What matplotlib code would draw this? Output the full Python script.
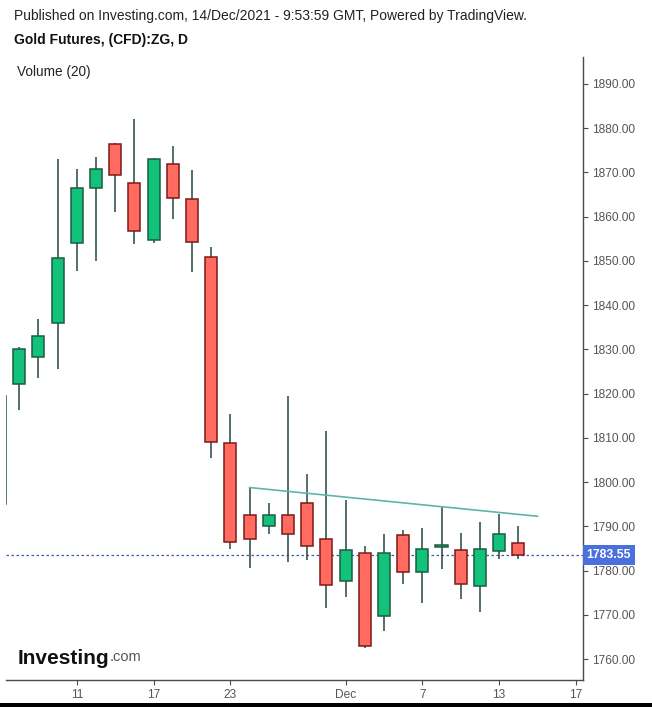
import datetime as dt
import matplotlib
matplotlib.use("Agg")
import matplotlib.pyplot as plt
import matplotlib.transforms as mtransforms
from matplotlib.patches import Rectangle

plt.rcParams['font.family'] = ['Liberation Sans', 'DejaVu Sans']

# daily gold futures candles, Nov 5 - Dec 14 2021
dates = ['2021-11-05', '2021-11-08', '2021-11-09', '2021-11-10', '2021-11-11',
         '2021-11-12', '2021-11-15', '2021-11-16', '2021-11-17', '2021-11-18',
         '2021-11-19', '2021-11-22', '2021-11-23', '2021-11-24', '2021-11-25',
         '2021-11-26', '2021-11-29', '2021-11-30', '2021-12-01', '2021-12-02',
         '2021-12-03', '2021-12-06', '2021-12-07', '2021-12-08', '2021-12-09',
         '2021-12-10', '2021-12-13', '2021-12-14']
opens = [1795.0, 1822.3, 1828.3, 1835.9, 1854.0, 1866.4, 1876.4, 1867.6,
         1854.7, 1871.9, 1863.9, 1850.8, 1808.8, 1792.5, 1790.0, 1792.5,
         1795.4, 1787.1, 1777.6, 1784.0, 1769.7, 1788.0, 1779.8, 1785.3,
         1784.6, 1776.5, 1784.4, 1786.2]
highs = [1820.0, 1830.5, 1837.0, 1873.0, 1870.9, 1873.4, 1876.6, 1882.0,
         1873.2, 1876.0, 1870.6, 1853.1, 1815.4, 1799.0, 1795.4, 1819.5,
         1801.8, 1811.5, 1796.0, 1785.5, 1788.2, 1789.2, 1789.6, 1794.5,
         1788.6, 1791.1, 1792.9, 1790.0]
lows = [1792.0, 1816.3, 1823.6, 1825.5, 1847.8, 1850.1, 1861.1, 1853.8,
        1854.1, 1859.6, 1847.4, 1805.5, 1784.8, 1780.7, 1788.2, 1782.0,
        1782.5, 1771.6, 1774.1, 1762.6, 1766.4, 1776.9, 1772.7, 1780.4,
        1773.7, 1770.7, 1782.6, 1782.6]
closes = [1819.5, 1830.2, 1833.0, 1850.6, 1866.4, 1870.9, 1869.4, 1856.8,
          1873.0, 1864.2, 1854.4, 1809.2, 1786.6, 1787.1, 1792.7, 1788.4,
          1785.5, 1776.7, 1784.6, 1762.9, 1784.0, 1779.8, 1785.0, 1785.7,
          1776.9, 1785.0, 1788.4, 1783.55]

# empty trading days to the right of the last candle
future_dates = ['2021-12-15', '2021-12-16', '2021-12-17']
tick_dates = ['2021-11-11', '2021-11-17', '2021-11-23', '2021-12-01',
              '2021-12-07', '2021-12-13', '2021-12-17']

# drawn trend line (Nov 24 -> Dec 15)
trend_dates = ['2021-11-24', '2021-12-15']
trend_prices = [1798.8, 1792.3]

last_price = 1783.55
price_ticks = list(range(1760, 1891, 10))

all_dates = dates + future_dates
pos = {d: i for i, d in enumerate(all_dates)}
x = [pos[d] for d in dates]

up_fill, up_edge = '#12c27b', '#1d5c43'
dn_fill, dn_edge = '#ff6a61', '#7d1a17'
wick = '#24473f'

fig = plt.figure(figsize=(6.52, 7.07), dpi=100)
ax = fig.add_axes([6 / 652, 27 / 707, 577 / 652, 623 / 707])

ax.vlines(x, lows, highs, color=wick, linewidth=1.1, zorder=2)
for xi, o, c in zip(x, opens, closes):
    up = c >= o
    ax.bar(xi, abs(c - o) if abs(c - o) > 0.3 else 0.5, bottom=min(o, c),
           width=0.63, color=up_fill if up else dn_fill,
           edgecolor=up_edge if up else dn_edge, linewidth=1.1, zorder=3)

ax.plot([pos[d] for d in trend_dates], trend_prices, color='#5fb5a8',
        linewidth=1.2, zorder=4)

ax.axhline(last_price, color='#3a58a8', linestyle=(0, (2, 2)),
           linewidth=0.9, zorder=1)

ax.set_xlim(0.31, 30.37)
ax.set_ylim(1755.3, 1896.1)

ax.set_xticks([pos[d] for d in tick_dates])
labels = []
for d in tick_dates:
    t = dt.date.fromisoformat(d)
    labels.append(t.strftime('%b') if t.day == 1 else str(t.day))
ax.set_xticklabels(labels)

ax.yaxis.tick_right()
ax.set_yticks(price_ticks)
ax.set_yticklabels([f'{p:.2f}' for p in price_ticks])

for s in ['top', 'left']:
    ax.spines[s].set_visible(False)
for s in ['bottom', 'right']:
    ax.spines[s].set_color('#4a4a4a')
    ax.spines[s].set_linewidth(1.0)
ax.tick_params(axis='both', colors='#4a4a4a', labelcolor='#555555',
               labelsize=8.6, length=3.5, width=0.8, pad=3)

trans = mtransforms.blended_transform_factory(ax.transAxes, ax.transData)
ax.text(1.006, last_price, f'{last_price:.2f}', transform=trans,
        ha='left', va='center', color='white', fontsize=8.8,
        fontweight='bold', clip_on=False, zorder=6,
        bbox=dict(boxstyle='square,pad=0.3', facecolor='#4a70de',
                  edgecolor='none'))

fig.text(14 / 652, 1 - 16 / 707,
         'Published on Investing.com, 14/Dec/2021 - 9:53:59 GMT, Powered by TradingView.',
         ha='left', va='center', fontsize=10, color='#222222')
fig.text(14 / 652, 1 - 40 / 707, 'Gold Futures, (CFD):ZG, D',
         ha='left', va='center', fontsize=10, fontweight='bold', color='#111111')
fig.text(17 / 652, 1 - 72 / 707, 'Volume (20)',
         ha='left', va='center', fontsize=9.8, color='#222222')

logo = fig.text(18 / 652, 1 - 658 / 707, 'Investing', ha='left',
                va='center', fontsize=15, fontweight='heavy', color='#111111')
ax.annotate('.com', xy=(1, 0.2), xycoords=logo, ha='left', va='bottom',
            fontsize=10.5, color='#555555')

fig.patches.append(Rectangle((0, 0), 1, 4 / 707, transform=fig.transFigure,
                             facecolor='black', edgecolor='none'))

fig.savefig('out.png', dpi=100)
